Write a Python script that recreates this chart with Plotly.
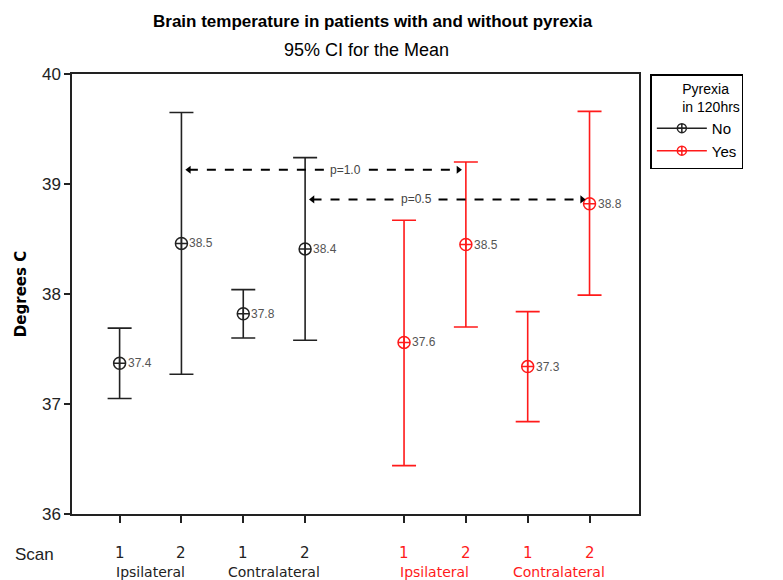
import plotly.graph_objects as go

# x positions of the eight intervals (two groups of four)
positions = [1, 2, 3, 4, 5.6, 6.6, 7.6, 8.6]
scan_labels = ["1", "2", "1", "2", "1", "2", "1", "2"]
side_labels = ["Ipsilateral", "Contralateral", "Ipsilateral", "Contralateral"]
side_positions = [1.5, 3.5, 6.1, 8.1]

# Pyrexia = No (black)
no_x = [1, 2, 3, 4]
no_mean = [37.37, 38.46, 37.82, 38.41]
no_upper = [37.69, 39.65, 38.04, 39.24]
no_lower = [37.05, 37.27, 37.60, 37.58]
no_labels = ["37.4", "38.5", "37.8", "38.4"]

# Pyrexia = Yes (red)
yes_x = [5.6, 6.6, 7.6, 8.6]
yes_mean = [37.56, 38.45, 37.34, 38.82]
yes_upper = [38.67, 39.20, 37.84, 39.66]
yes_lower = [36.44, 37.70, 36.84, 37.99]
yes_labels = ["37.6", "38.5", "37.3", "38.8"]

# p-value comparisons: x from, x to, y, label, label x
cmp_from = [2, 4]
cmp_to = [6.6, 8.6]
cmp_y = [39.13, 38.86]
cmp_text = ["p=1.0", "p=0.5"]
cmp_text_x = [4.65, 5.8]

BLACK = "#222222"
RED = "#ff1a1a"
NARROW = "Liberation Sans Narrow, Arial Narrow, Liberation Sans, sans-serif"
SANS = "DejaVu Sans, Verdana, sans-serif"

fig = go.Figure()


def add_group(xs, means, upper, lower, labels, color, name):
    fig.add_trace(go.Scatter(
        x=xs, y=means, mode="markers", showlegend=False,
        marker=dict(symbol="circle-cross-open", size=12, color=color,
                    line=dict(width=1.5, color=color)),
        error_y=dict(type="data", symmetric=False,
                     array=[u - m for u, m in zip(upper, means)],
                     arrayminus=[m - l for m, l in zip(means, lower)],
                     color=color, thickness=1.6, width=12),
    ))
    # legend sample: line with marker
    fig.add_trace(go.Scatter(
        x=[None], y=[None], mode="lines+markers", name=name,
        line=dict(color=color, width=1.5),
        marker=dict(symbol="circle-cross-open", size=9, color=color,
                    line=dict(width=1.5, color=color)),
    ))
    for x, m, t in zip(xs, means, labels):
        fig.add_annotation(x=x, y=m, text=t, showarrow=False,
                           xanchor="left", xshift=6,
                           font=dict(family=NARROW, size=12, color="#555555"))


add_group(no_x, no_mean, no_upper, no_lower, no_labels, BLACK, "No")
add_group(yes_x, yes_mean, yes_upper, yes_lower, yes_labels, RED, "Yes")

# dashed double-headed comparison arrows
for x0, x1, y, label, lx in zip(cmp_from, cmp_to, cmp_y, cmp_text, cmp_text_x):
    fig.add_trace(go.Scatter(
        x=[x0 + 0.12, x1 - 0.12], y=[y, y], mode="lines+markers", showlegend=False,
        line=dict(color="black", width=2, dash="dash"),
        marker=dict(symbol=["triangle-left", "triangle-right"], size=7, color="black"),
    ))
    fig.add_annotation(x=lx, y=y, text=label, showarrow=False, bgcolor="white",
                       borderpad=0, font=dict(family=NARROW, size=12, color="#444444"))

# x axis labels below the plot
for x, t, c in zip(positions, scan_labels, [BLACK] * 4 + [RED] * 4):
    fig.add_annotation(x=x, y=0, yref="paper", yanchor="top", yshift=-29,
                       text=t, showarrow=False, borderpad=0,
                       font=dict(family=SANS, size=15, color=c))
for x, t, c in zip(side_positions, side_labels, [BLACK, BLACK, RED, RED]):
    fig.add_annotation(x=x, y=0, yref="paper", yanchor="top", yshift=-49,
                       text=t, showarrow=False, borderpad=0,
                       font=dict(family=SANS, size=14, color=c))
fig.add_annotation(x=0, xref="paper", y=0, yref="paper", yanchor="top", yshift=-30,
                   xanchor="left", xshift=-58, text="Scan", showarrow=False, borderpad=0,
                   font=dict(family="Liberation Sans, Arial, sans-serif", size=17, color=BLACK))

# titles
fig.add_annotation(x=0.53, xref="paper", y=1, yref="paper", yanchor="bottom", yshift=42,
                   text="<b>Brain temperature in patients with and without pyrexia</b>",
                   showarrow=False, borderpad=0,
                   font=dict(family=NARROW, size=17, color="black"))
fig.add_annotation(x=0.52, xref="paper", y=1, yref="paper", yanchor="bottom", yshift=13,
                   text="95% CI for the Mean", showarrow=False, borderpad=0,
                   font=dict(family="Liberation Sans, Arial, sans-serif", size=18, color="black"))

fig.update_layout(
    width=783, height=580,
    margin=dict(l=64, r=152, t=66, b=74),
    paper_bgcolor="white", plot_bgcolor="white",
    legend=dict(
        title=dict(text="Pyrexia<br>in 120hrs", side="top right",
                   font=dict(family=NARROW, size=14, color="black")),
        x=1.02, xanchor="left", y=1.0, yanchor="top",
        bordercolor="black", borderwidth=1.5, bgcolor="white",
        font=dict(family=NARROW, size=15, color="black"),
        itemwidth=50, entrywidth=100, entrywidthmode="pixels", tracegroupgap=0,
    ),
)
fig.update_xaxes(range=[0.23, 9.4], tickvals=positions, showticklabels=False,
                 ticks="outside", ticklen=7, tickwidth=1.5, tickcolor=BLACK,
                 showline=True, linecolor=BLACK, linewidth=1.5, mirror=True,
                 showgrid=False, zeroline=False)
fig.update_yaxes(range=[36, 40], dtick=1, ticks="outside", ticklen=6, tickwidth=1.5,
                 tickcolor=BLACK, showline=True, linecolor=BLACK, linewidth=1.5, mirror=True,
                 showgrid=False, zeroline=False,
                 tickfont=dict(family=NARROW, size=17, color=BLACK),
                 title=dict(text="<b>Degrees C</b>", standoff=12,
                            font=dict(family=SANS, size=15, color="black")))

fig.write_html("out.html")
